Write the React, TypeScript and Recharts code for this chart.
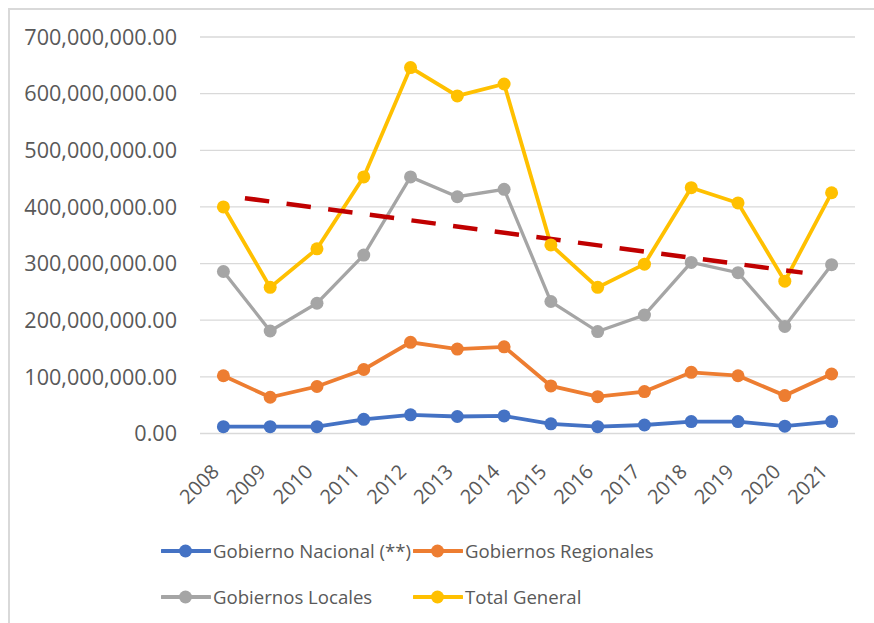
import React from 'react';
import { LineChart, Line, XAxis, YAxis, CartesianGrid, Legend } from 'recharts';

const years = ['2008', '2009', '2010', '2011', '2012', '2013', '2014', '2015', '2016', '2017', '2018', '2019', '2020', '2021'];

const gobiernoNacional = [12e6, 12e6, 12e6, 25e6, 33e6, 30e6, 31e6, 17e6, 12e6, 15e6, 21e6, 21e6, 13e6, 21e6];
const gobiernosRegionales = [102e6, 64e6, 83e6, 113e6, 161e6, 149e6, 153e6, 84e6, 65e6, 74e6, 108e6, 102e6, 67e6, 105e6];
const gobiernosLocales = [286e6, 181e6, 230e6, 315e6, 453e6, 418e6, 431e6, 233e6, 180e6, 209e6, 302e6, 284e6, 189e6, 298e6];
const totalGeneral = [400e6, 258e6, 326e6, 453e6, 646e6, 596e6, 617e6, 333e6, 258e6, 299e6, 434e6, 407e6, 269e6, 425e6];

// dashed trend line (position in years from 2008, value)
const trendPos = [0.46, 12.38];
const trendValues = [415.5e6, 284e6];

const yTicks = [0, 100e6, 200e6, 300e6, 400e6, 500e6, 600e6, 700e6];

const series = [
  { key: 'nacional', name: 'Gobierno Nacional (**)', color: '#4472C4', width: 3.8 },
  { key: 'regionales', name: 'Gobiernos Regionales', color: '#ED7D31', width: 3.8 },
  { key: 'locales', name: 'Gobiernos Locales', color: '#A5A5A5', width: 3.3 },
  { key: 'total', name: 'Total General', color: '#FFC000', width: 3.8 },
];

const data = years.map((year, i) => ({
  year,
  nacional: gobiernoNacional[i],
  regionales: gobiernosRegionales[i],
  locales: gobiernosLocales[i],
  total: totalGeneral[i],
}));

const trendData = trendPos.map((t, i) => ({ t, value: trendValues[i] }));

const FONT = '"Open Sans", "DejaVu Sans", sans-serif';
const TEXT = '#595959';

const fmt = (v: number) => v.toLocaleString('en-US', { minimumFractionDigits: 2, maximumFractionDigits: 2 });

const YearTick = (props: any) => {
  const { x, y, payload } = props;
  const ax = x - 3;
  const ay = y + 39.5;
  return (
    <text x={ax} y={ay} transform={`rotate(-45, ${ax}, ${ay})`} textAnchor="end" fill={TEXT} fontSize={20} fontFamily={FONT}>
      {payload.value}
    </text>
  );
};

const LegendBox = () => (
  <div style={{ display: 'grid', gridTemplateColumns: '252px 300px', fontFamily: FONT, fontSize: 18.6, color: TEXT }}>
    {series.map(s => (
      <div key={s.key} style={{ display: 'flex', alignItems: 'center', height: 46, whiteSpace: 'nowrap' }}>
        <svg width={50} height={16} style={{ flexShrink: 0, marginRight: 2 }}>
          <line x1={1} y1={8} x2={49} y2={8} stroke={s.color} strokeWidth={4} strokeLinecap="round" />
          <circle cx={24.5} cy={8} r={6.5} fill={s.color} />
        </svg>
        <span>{s.name}</span>
      </div>
    ))}
  </div>
);

export default function App() {
  return (
    <div style={{ position: 'fixed', left: 0, top: 0, width: 874, height: 623, overflow: 'hidden', background: '#fff' }}>
      <div style={{ position: 'absolute', left: 8, top: 8, width: 900, height: 700, borderLeft: '2px solid #d9d9d9', borderTop: '2px solid #d9d9d9' }} />
      <div style={{ position: 'absolute', left: 0, top: 0 }}>
        <LineChart width={874} height={623} data={data} margin={{ top: 37, right: 19, bottom: 129.5, left: 0 }}>
          <CartesianGrid vertical={false} stroke="#d9d9d9" strokeWidth={1.3} />
          <XAxis
            dataKey="year"
            height={60}
            padding={{ left: 23.4, right: 23.4 }}
            axisLine={false}
            tickLine={false}
            tickSize={0}
            tickMargin={0}
            interval={0}
            tick={<YearTick />}
          />
          <XAxis
            xAxisId="trend"
            dataKey="t"
            type="number"
            domain={[0, 13]}
            allowDataOverflow
            padding={{ left: 23.4, right: 23.4 }}
            hide
          />
          <YAxis
            width={200}
            domain={[0, 700e6]}
            ticks={yTicks}
            interval={0}
            axisLine={false}
            tickLine={false}
            tickSize={0}
            tickMargin={23}
            tickFormatter={fmt}
            tick={{ fill: TEXT, fontSize: 21.6, fontFamily: FONT }}
          />
          {series.map(s => (
            <Line
              key={s.key}
              type="linear"
              dataKey={s.key}
              name={s.name}
              stroke={s.color}
              strokeWidth={s.width}
              dot={{ r: 6.5, fill: s.color, stroke: s.color, strokeWidth: 0 }}
              activeDot={false}
              isAnimationActive={false}
            />
          ))}
          <Line
            xAxisId="trend"
            data={trendData}
            dataKey="value"
            type="linear"
            stroke="#C00000"
            strokeWidth={4.5}
            strokeDasharray="24.5 17.5"
            dot={false}
            activeDot={false}
            legendType="none"
            isAnimationActive={false}
          />
          <Legend
            layout="vertical"
            verticalAlign="middle"
            align="center"
            content={<LegendBox />}
            wrapperStyle={{ left: 161, top: 527.5, width: 600, right: 'auto', bottom: 'auto' }}
          />
        </LineChart>
      </div>
    </div>
  );
}
